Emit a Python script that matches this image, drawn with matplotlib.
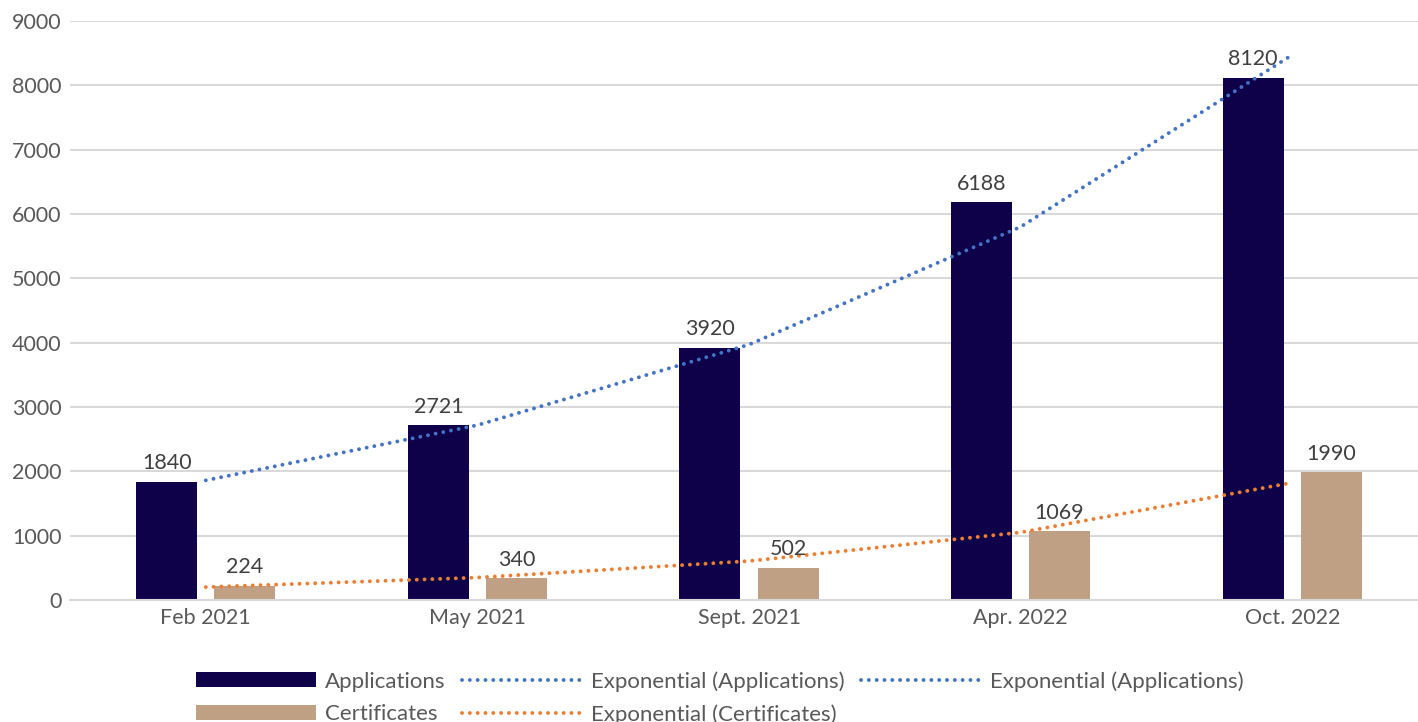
import numpy as np
import matplotlib
matplotlib.use("Agg")
import matplotlib.pyplot as plt
from matplotlib.patches import Patch
from matplotlib.lines import Line2D

plt.rcParams['font.family'] = ['Lato', 'DejaVu Sans']

periods = ["Feb 2021", "May 2021", "Sept. 2021", "Apr. 2022", "Oct. 2022"]
applications = [1840, 2721, 3920, 6188, 8120]
certificates = [224, 340, 502, 1069, 1990]
y_ticks = [0, 1000, 2000, 3000, 4000, 5000, 6000, 7000, 8000, 9000]

NAVY = "#0E0049"
TAN = "#BFA084"
BLUE = "#4472C4"
ORANGE = "#ED7D31"
GRID = "#D9D9D9"
TICK = "#595959"
LABEL = "#404040"


def exp_trend(values):
    """Exponential least-squares trend evaluated at each category (1-based)."""
    n = np.arange(1, len(values) + 1)
    b, a = np.polyfit(n, np.log(values), 1)
    return np.exp(a + b * n)


fig = plt.figure(figsize=(14.18, 7.22), dpi=100)
ax = fig.add_axes([70 / 1418, 122 / 722, 1358 / 1418, 579 / 722])

x = np.arange(len(periods))
width = 0.2246
offset = 0.1436

bars_a = ax.bar(x - offset, applications, width, color=NAVY, zorder=2)
bars_c = ax.bar(x + offset, certificates, width, color=TAN, zorder=2)

dot = (0, (0.01, 2.0))
LW = 2.8
ax.plot(x, exp_trend(applications), color=BLUE, lw=LW, linestyle=dot,
        dash_capstyle='round', zorder=3)
ax.plot(x, exp_trend(certificates), color=ORANGE, lw=LW, linestyle=dot,
        dash_capstyle='round', zorder=3)

for bars, vals in ((bars_a, applications), (bars_c, certificates)):
    for b, v in zip(bars, vals):
        ax.annotate(f"{v}", (b.get_x() + b.get_width() / 2, v),
                    xytext=(0, 6), textcoords="offset points",
                    ha="center", va="bottom", fontsize=15.5, color=LABEL)

ax.set_xlim(-0.5, len(periods) - 0.5)
ax.set_ylim(0, 9000)
ax.set_yticks(y_ticks)
ax.set_xticks(x)
ax.set_xticklabels(periods)
ax.tick_params(axis='both', length=0, labelsize=15.5, labelcolor=TICK)
ax.tick_params(axis='y', pad=6)
ax.tick_params(axis='x', pad=6)
ax.yaxis.grid(True, color=GRID, lw=1.5, zorder=0)
ax.set_axisbelow(True)
for side in ("left", "right", "top"):
    ax.spines[side].set_visible(False)
ax.spines["bottom"].set_color(GRID)
ax.spines["bottom"].set_linewidth(1.5)

handles = [
    Patch(facecolor=NAVY, label="Applications"),
    Patch(facecolor=TAN, label="Certificates"),
    Line2D([], [], color=BLUE, lw=LW, linestyle=dot, dash_capstyle='round',
           label="Exponential (Applications)"),
    Line2D([], [], color=ORANGE, lw=LW, linestyle=dot, dash_capstyle='round',
           label="Exponential (Certificates)"),
    Line2D([], [], color=BLUE, lw=LW, linestyle=dot, dash_capstyle='round',
           label="Exponential (Applications)"),
]
leg = fig.legend(handles=handles, ncol=3, loc="upper left",
                 bbox_to_anchor=(185 / 1418, 1 - 660 / 722),
                 frameon=False, fontsize=16, handlelength=5.4,
                 handleheight=0.65, handletextpad=0.4, columnspacing=0.75,
                 labelspacing=0.55, borderpad=0)
for t in leg.get_texts():
    t.set_color(TICK)

fig.savefig("out.png", dpi=100)
